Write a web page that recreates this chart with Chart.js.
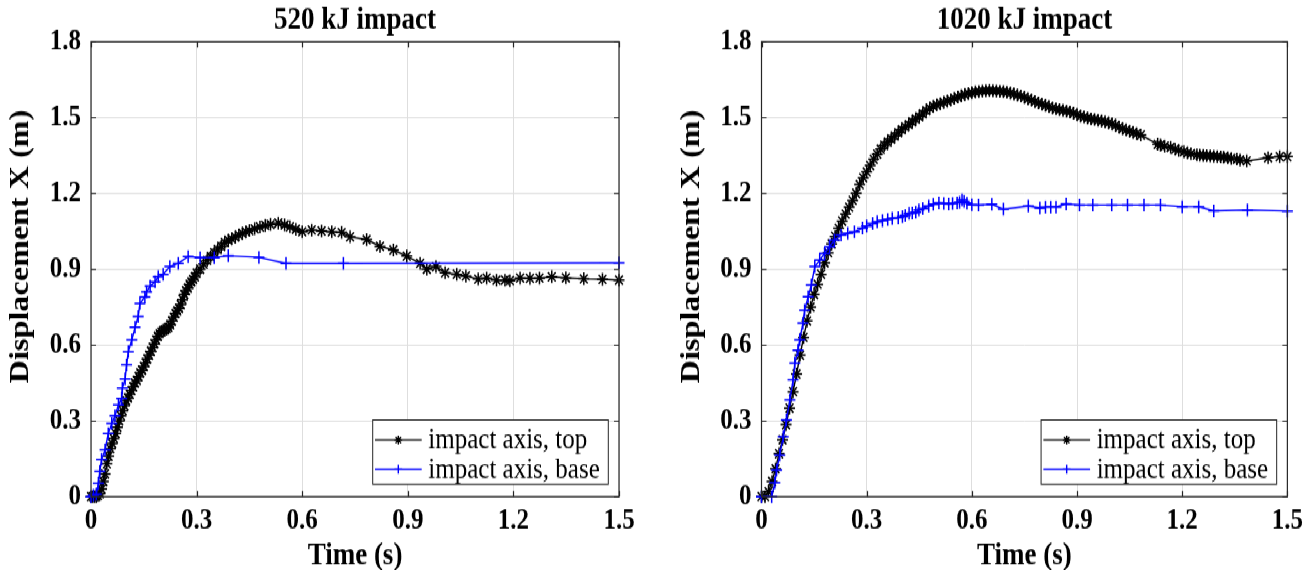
<!DOCTYPE html>
<html>
<head>
<meta charset="utf-8">
<script src="https://cdn.jsdelivr.net/npm/chart.js@4.4.1/dist/chart.umd.min.js"></script>
<style>
  html, body { margin: 0; padding: 0; background: #fff; overflow: hidden; }
  /* figure is exported slightly taller than wide, so stretch it vertically */
  #figure { position: absolute; left: 0; top: 0; width: 1309px; height: 496px; transform: scaleY(1.1492); transform-origin: 0 0; }
  #leftChart { position: absolute; left: 0; top: 0; }
  #rightChart { position: absolute; left: 654px; top: 0; }
</style>
</head>
<body>
<div id="figure">
  <canvas id="leftChart" width="654" height="496"></canvas>
  <canvas id="rightChart" width="655" height="496"></canvas>
</div>
<script>
// [time (s), displacement (m)]
const topAxis520 = [
  [0,0],[0.005,0],[0.01,0],[0.015,0],[0.02,0.005],[0.025,0.012],[0.03,0.03],[0.035,0.06],[0.04,0.09],
  [0.045,0.13],[0.05,0.16],[0.055,0.19],[0.06,0.21],[0.065,0.23],[0.07,0.25],[0.075,0.275],[0.08,0.3],
  [0.085,0.32],[0.09,0.34],[0.095,0.36],[0.1,0.38],[0.105,0.39],[0.11,0.405],[0.115,0.42],[0.12,0.435],
  [0.125,0.45],[0.13,0.46],[0.135,0.475],[0.14,0.49],[0.145,0.5],[0.15,0.515],[0.155,0.53],[0.16,0.545],
  [0.165,0.56],[0.17,0.575],[0.175,0.59],[0.18,0.605],[0.185,0.62],[0.19,0.635],[0.195,0.645],[0.2,0.652],
  [0.205,0.657],[0.21,0.66],[0.215,0.665],[0.22,0.67],[0.225,0.68],[0.23,0.695],[0.235,0.71],[0.24,0.725],
  [0.245,0.735],[0.25,0.745],[0.255,0.76],[0.26,0.78],[0.265,0.8],[0.27,0.815],[0.275,0.825],[0.28,0.84],
  [0.285,0.85],[0.29,0.86],[0.295,0.87],[0.3,0.885],[0.31,0.9],[0.32,0.92],[0.33,0.935],[0.34,0.95],
  [0.35,0.965],[0.36,0.978],[0.37,0.99],[0.38,1.005],[0.39,1.015],[0.4,1.02],[0.41,1.027],[0.42,1.035],
  [0.43,1.042],[0.44,1.048],[0.45,1.053],[0.465,1.06],[0.48,1.067],[0.495,1.073],[0.51,1.077],[0.532,1.082],
  [0.55,1.075],[0.565,1.068],[0.582,1.058],[0.6,1.048],[0.627,1.055],[0.655,1.051],[0.684,1.048],[0.712,1.045],
  [0.736,1.028],[0.783,1.017],[0.821,0.99],[0.859,0.976],[0.897,0.952],[0.935,0.923],[0.954,0.9],[0.98,0.91],
  [1.006,0.886],[1.039,0.88],[1.065,0.873],[1.1,0.861],[1.124,0.865],[1.152,0.857],[1.176,0.857],[1.19,0.855],
  [1.219,0.865],[1.247,0.864],[1.274,0.865],[1.309,0.87],[1.349,0.866],[1.4,0.862],[1.453,0.86],[1.5,0.857]
];
const baseAxis520 = [
  [0,0],[0.007,0.005],[0.015,0.01],[0.021,0.053],[0.025,0.1],[0.03,0.148],[0.04,0.185],[0.049,0.25],
  [0.059,0.29],[0.068,0.32],[0.078,0.363],[0.087,0.389],[0.089,0.429],[0.097,0.466],[0.101,0.521],
  [0.106,0.574],[0.116,0.62],[0.125,0.67],[0.134,0.712],[0.139,0.765],[0.153,0.79],[0.158,0.81],
  [0.168,0.833],[0.182,0.85],[0.191,0.87],[0.205,0.88],[0.224,0.91],[0.248,0.923],[0.276,0.95],
  [0.31,0.946],[0.35,0.946],[0.39,0.953],[0.477,0.947],[0.554,0.923],[0.717,0.923],[1.5,0.925]
];
const topAxis1020 = [
  [0,0],[0.01,0],[0.02,0.02],[0.03,0.06],[0.04,0.11],[0.05,0.17],[0.06,0.225],[0.07,0.285],[0.08,0.35],
  [0.09,0.415],[0.1,0.485],[0.11,0.56],[0.12,0.63],[0.13,0.695],[0.14,0.75],[0.15,0.8],[0.16,0.84],
  [0.17,0.88],[0.18,0.925],[0.19,0.965],[0.2,1.0],[0.21,1.03],[0.22,1.062],[0.23,1.09],[0.24,1.118],
  [0.25,1.145],[0.26,1.172],[0.27,1.2],[0.28,1.235],[0.29,1.262],[0.3,1.285],[0.31,1.31],[0.32,1.335],
  [0.33,1.355],[0.34,1.375],[0.35,1.39],[0.36,1.403],[0.37,1.415],[0.38,1.427],[0.39,1.44],[0.4,1.452],
  [0.41,1.463],[0.42,1.472],[0.43,1.483],[0.44,1.494],[0.45,1.503],[0.46,1.515],[0.47,1.527],[0.48,1.537],
  [0.49,1.545],[0.5,1.55],[0.51,1.555],[0.52,1.56],[0.53,1.565],[0.54,1.57],[0.55,1.576],[0.56,1.581],
  [0.57,1.586],[0.58,1.591],[0.59,1.595],[0.6,1.598],[0.61,1.601],[0.62,1.603],[0.63,1.605],[0.64,1.606],
  [0.65,1.607],[0.66,1.606],[0.67,1.605],[0.68,1.604],[0.69,1.602],[0.7,1.6],[0.71,1.597],[0.72,1.593],
  [0.73,1.589],[0.74,1.585],[0.75,1.58],[0.76,1.574],[0.77,1.569],[0.78,1.563],[0.79,1.558],[0.8,1.553],
  [0.81,1.548],[0.82,1.543],[0.83,1.538],[0.84,1.534],[0.85,1.531],[0.86,1.528],[0.87,1.525],[0.88,1.522],
  [0.89,1.517],[0.9,1.511],[0.91,1.506],[0.92,1.502],[0.93,1.498],[0.94,1.495],[0.95,1.492],[0.96,1.489],
  [0.97,1.486],[0.98,1.483],[0.99,1.479],[1.0,1.475],[1.01,1.469],[1.02,1.462],[1.03,1.456],[1.04,1.451],
  [1.05,1.446],[1.06,1.441],[1.07,1.436],[1.082,1.431],[1.13,1.394],[1.138,1.391],[1.15,1.387],[1.167,1.382],
  [1.18,1.375],[1.19,1.37],[1.205,1.365],[1.215,1.36],[1.225,1.357],[1.242,1.352],[1.25,1.351],[1.26,1.35],
  [1.27,1.349],[1.28,1.348],[1.29,1.347],[1.3,1.346],[1.31,1.344],[1.318,1.343],[1.33,1.341],[1.34,1.338],
  [1.356,1.335],[1.365,1.332],[1.384,1.328],[1.445,1.341],[1.478,1.345],[1.5,1.345]
];
const baseAxis1020 = [
  [0,0],[0.029,0],[0.038,0.055],[0.043,0.105],[0.052,0.165],[0.062,0.237],[0.071,0.303],[0.081,0.383],
  [0.09,0.462],[0.095,0.528],[0.104,0.58],[0.109,0.62],[0.118,0.686],[0.123,0.738],[0.133,0.791],
  [0.142,0.837],[0.152,0.91],[0.166,0.936],[0.18,0.963],[0.194,0.989],[0.208,1.015],[0.227,1.035],
  [0.246,1.042],[0.265,1.048],[0.288,1.062],[0.3,1.07],[0.317,1.081],[0.33,1.087],[0.345,1.092],
  [0.36,1.097],[0.373,1.101],[0.39,1.104],[0.402,1.108],[0.41,1.112],[0.421,1.121],[0.43,1.122],
  [0.44,1.125],[0.449,1.134],[0.46,1.14],[0.477,1.15],[0.49,1.157],[0.506,1.163],[0.52,1.16],[0.534,1.158],
  [0.545,1.16],[0.558,1.163],[0.565,1.165],[0.572,1.174],[0.578,1.168],[0.586,1.161],[0.6,1.155],
  [0.619,1.154],[0.657,1.157],[0.69,1.137],[0.761,1.15],[0.794,1.142],[0.81,1.145],[0.825,1.146],
  [0.84,1.146],[0.869,1.158],[0.907,1.154],[0.945,1.154],[0.999,1.154],[1.044,1.154],[1.091,1.154],
  [1.138,1.154],[1.2,1.147],[1.247,1.147],[1.29,1.131],[1.386,1.134],[1.5,1.13]
];
const timeTicks = [0, 0.3, 0.6, 0.9, 1.2, 1.5];
const dispTicks = [0, 0.3, 0.6, 0.9, 1.2, 1.5, 1.8];
const seriesLabels = ['impact axis, top', 'impact axis, base'];

const SERIF = '"Liberation Serif", "Times New Roman", serif';
const AXIS_COLOR = '#262626';

const fmt = v => (v === 0 ? '0' : v.toFixed(1));
const toXY = rows => rows.map(([x, y]) => ({ x, y }));

// box, inner tick marks, panel title, y label and legend, MATLAB style
const framePlugin = {
  id: 'frame',
  afterDraw(chart, args, opts) {
    const { ctx, chartArea: a, scales: { x, y } } = chart;
    ctx.save();
    ctx.strokeStyle = AXIS_COLOR;
    ctx.lineWidth = 1.2;
    ctx.beginPath();
    timeTicks.forEach(v => {
      const px = Math.round(x.getPixelForValue(v)) + 0.5;
      ctx.moveTo(px, a.bottom); ctx.lineTo(px, a.bottom - 5);
      ctx.moveTo(px, a.top); ctx.lineTo(px, a.top + 5);
    });
    dispTicks.forEach(v => {
      const py = Math.round(y.getPixelForValue(v)) + 0.5;
      ctx.moveTo(a.left, py); ctx.lineTo(a.left + 5, py);
      ctx.moveTo(a.right, py); ctx.lineTo(a.right - 5, py);
    });
    ctx.stroke();
    ctx.strokeRect(a.left, a.top, a.width, a.height);

    ctx.fillStyle = '#000';
    ctx.font = 'bold 27px ' + SERIF;
    ctx.textAlign = 'center';
    ctx.textBaseline = 'middle';
    ctx.fillText(opts.title, (a.left + a.right) / 2, 18.5);

    // y label sits a little above the axis centre
    ctx.save();
    ctx.translate(opts.yLabelX, 214.5);
    ctx.rotate(-Math.PI / 2);
    ctx.font = 'bold 28px ' + SERIF;
    ctx.fillText('Displacement X (m)', 0, 0);
    ctx.restore();

    // legend in the lower right corner
    const w = 235.6, h = 55.9;
    const bx = a.right - 10.7 - w, by = a.bottom - 10.8 - h;
    ctx.fillStyle = '#fff';
    ctx.fillRect(bx, by, w, h);
    ctx.lineWidth = 1;
    ctx.strokeStyle = AXIS_COLOR;
    ctx.strokeRect(bx, by, w, h);
    const rows = [by + 17.4, by + 42.9];
    chart.data.datasets.forEach((ds, i) => {
      const ly = rows[i];
      ctx.strokeStyle = ds.borderColor;
      ctx.fillStyle = ds.borderColor;
      ctx.lineWidth = ds.borderWidth;
      ctx.beginPath();
      ctx.moveTo(bx + 2.3, ly); ctx.lineTo(bx + 49, ly);
      ctx.stroke();
      Chart.helpers.drawPoint(ctx, {
        pointStyle: ds.pointStyle, rotation: 0,
        radius: ds.pointRadius * 0.7, borderWidth: ds.pointBorderWidth
      }, bx + 25.6, ly);
      ctx.fillStyle = '#000';
      ctx.font = '25px ' + SERIF;
      ctx.textAlign = 'left';
      ctx.fillText(ds.label, bx + 55.6, ly + 1);
    });
    ctx.restore();
  }
};

function makeChart(id, title, topRows, baseRows, axisWidth, yLabelX, rightPad) {
  return new Chart(document.getElementById(id), {
    type: 'line',
    data: {
      datasets: [
        {
          label: seriesLabels[0],
          data: toXY(topRows),
          borderColor: '#000000',
          backgroundColor: '#000000',
          borderWidth: 1.4,
          pointStyle: 'star',
          pointRadius: 5.5,
          pointBorderWidth: 1.5,
          order: 1,
          clip: false
        },
        {
          label: seriesLabels[1],
          data: toXY(baseRows),
          borderColor: '#0000ff',
          backgroundColor: '#0000ff',
          borderWidth: 1.4,
          pointStyle: 'cross',
          pointRadius: 5.5,
          pointBorderWidth: 1.5,
          order: 0,
          clip: false
        }
      ]
    },
    options: {
      responsive: false,
      animation: false,
      layout: { padding: { top: 36.3, right: rightPad, left: 0, bottom: 0 } },
      plugins: {
        legend: { display: false },
        tooltip: { enabled: false },
        frame: { title, yLabelX }
      },
      scales: {
        x: {
          type: 'linear',
          min: 0,
          max: 1.5,
          afterBuildTicks: s => { s.ticks = timeTicks.map(value => ({ value })); },
          afterFit: s => { s.height = 63.8; },
          grid: { color: '#dedede', lineWidth: 1, drawTicks: false },
          border: { display: false },
          ticks: {
            padding: 6,
            color: '#000',
            font: { family: SERIF, size: 25, weight: 'bold' },
            callback: v => fmt(v)
          },
          title: {
            display: true,
            text: 'Time (s)',
            color: '#000',
            padding: { top: 0, bottom: 0 },
            font: { family: SERIF, size: 27, weight: 'bold', lineHeight: 0.9 }
          }
        },
        y: {
          type: 'linear',
          min: 0,
          max: 1.8,
          afterBuildTicks: s => { s.ticks = dispTicks.map(value => ({ value })); },
          afterFit: s => { s.width = axisWidth; },
          grid: { color: '#dedede', lineWidth: 1, drawTicks: false },
          border: { display: false },
          ticks: {
            padding: 10,
            color: '#000',
            font: { family: SERIF, size: 25, weight: 'bold' },
            callback: v => fmt(v)
          },
          title: { display: false }
        }
      }
    },
    plugins: [framePlugin]
  });
}

makeChart('leftChart', '520 kJ impact', topAxis520, baseAxis520, 91, 21, 35);
makeChart('rightChart', '1020 kJ impact', topAxis1020, baseAxis1020, 107.5, 38, 18);
</script>
</body>
</html>
